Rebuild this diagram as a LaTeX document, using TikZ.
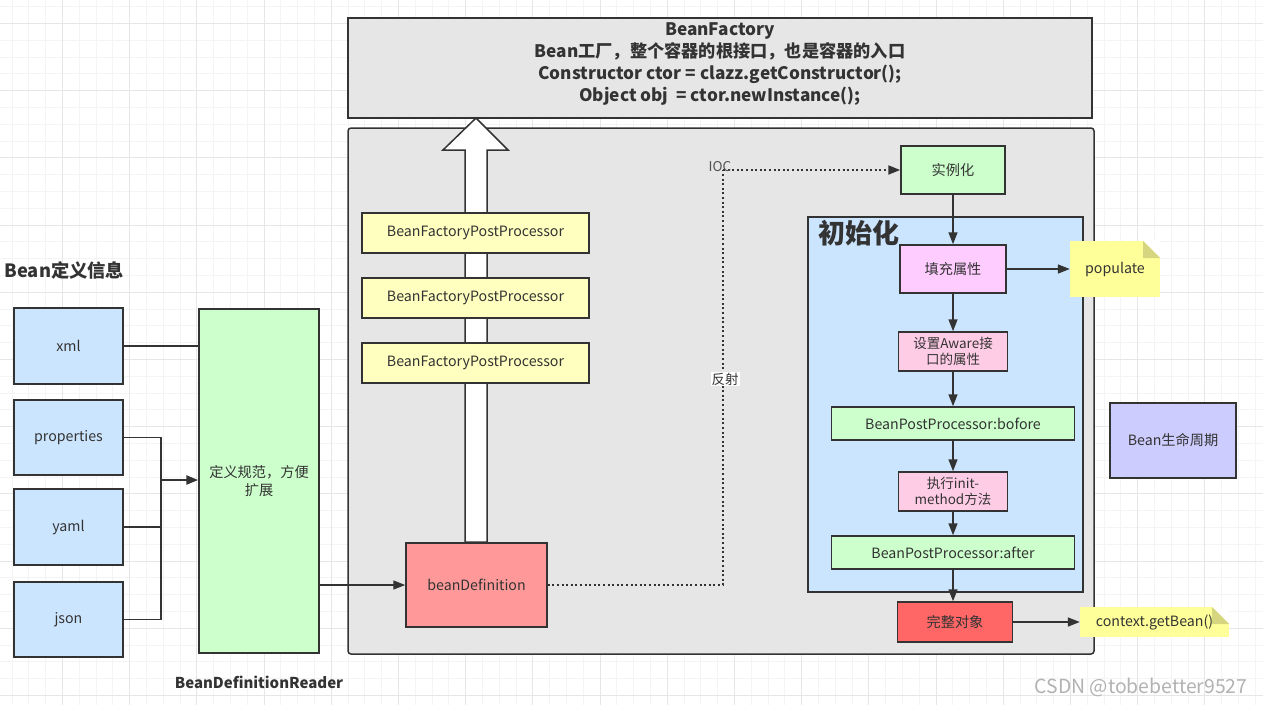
\documentclass[tikz,border=0pt]{standalone}
\usepackage{fontspec}
\setmainfont{Noto Sans CJK SC}
\usetikzlibrary{arrows.meta}
\definecolor{linecol}{HTML}{333333}
\definecolor{txtcol}{HTML}{333333}
\definecolor{gridminor}{HTML}{F4F4F4}
\definecolor{gridmajor}{HTML}{E6E6E6}
\definecolor{contgray}{HTML}{E6E6E6}
\definecolor{bfppyellow}{HTML}{FFFFC0}
\definecolor{srcblue}{HTML}{CCE5FF}
\definecolor{stepgreen}{HTML}{CCFFCC}
\definecolor{fillpink}{HTML}{FFCCFF}
\definecolor{softpink}{HTML}{FFCCE6}
\definecolor{defred}{HTML}{FF9999}
\definecolor{donered}{HTML}{FF6666}
\definecolor{lifeviolet}{HTML}{CCCCFF}
\definecolor{notebg}{HTML}{FFFF99}
\definecolor{notefold}{HTML}{D6D680}
\begin{document}
\begin{tikzpicture}[x=1pt,y=-1pt,
    box/.style={draw=linecol,line width=1.5pt,text=txtcol,align=center,inner sep=1pt,font=\fontsize{14.2}{17.5}\selectfont},
    line/.style={draw=linecol,line width=1.5pt},
    link/.style={draw=linecol,line width=1.5pt,-{Triangle[length=12pt,width=9pt]}},
    dotline/.style={draw=linecol,line width=2pt,dash pattern=on 2pt off 2.6pt},
    note/.style={fill=notebg,text=txtcol,inner sep=1pt,font=\fontsize{14.2}{17.5}\selectfont,
        path picture={
            \fill[white] ([xshift=-17pt]path picture bounding box.north east) -- (path picture bounding box.north east) -- ([yshift=-17pt]path picture bounding box.north east) -- cycle;
            \fill[notefold] ([xshift=-17pt]path picture bounding box.north east) -- ([xshift=-17pt,yshift=-17pt]path picture bounding box.north east) -- ([yshift=-17pt]path picture bounding box.north east) -- cycle;}}]
    \useasboundingbox (0,0) rectangle (1263,705);
    \fill[white] (0,0) rectangle (1263,705);
    \foreach \i in {0,...,75} \draw[gridminor,line width=0.8pt] (-4.9+16.8*\i,0) -- (-4.9+16.8*\i,705);
    \foreach \i in {0,...,41} \draw[gridminor,line width=0.8pt] (0,6.5+16.8*\i) -- (1263,6.5+16.8*\i);
    \foreach \i in {0,...,19} \draw[gridmajor,line width=0.8pt] (-4.9+67.2*\i,0) -- (-4.9+67.2*\i,705);
    \foreach \i in {0,...,10} \draw[gridmajor,line width=0.8pt] (0,23.3+67.2*\i) -- (1263,23.3+67.2*\i);

    \node [box,fill=contgray,minimum width=744,minimum height=100] (bf) at (720,68) {};
    \node [text=txtcol,align=center,font=\bfseries\fontsize{17.2}{21.7}\selectfont] (bftitle) at (720,64) {BeanFactory\\Bean工厂，整个容器的根接口，也是容器的入口\\Constructor ctor = clazz.getConstructor();\\Object obj\ \ = ctor.newInstance();};
    \node [box,fill=contgray,rounded corners=3pt,minimum width=746,minimum height=526] (cont) at (721,391) {};
    \draw [line,fill=white] (465,542) -- (465,150) -- (443,150) -- (476,118) -- (508,150) -- (487,150) -- (487,542) -- cycle;

    \node [box,fill=bfppyellow,minimum width=227,minimum height=40] (bfppa) at (475.5,233) {BeanFactoryPostProcessor};
    \node [box,fill=bfppyellow,minimum width=227,minimum height=40] (bfppb) at (475.5,298) {BeanFactoryPostProcessor};
    \node [box,fill=bfppyellow,minimum width=227,minimum height=40] (bfppc) at (475.5,363) {BeanFactoryPostProcessor};
    \node [box,fill=defred,minimum width=141,minimum height=84] (bd) at (476.5,585) {beanDefinition};

    \node [anchor=west,text=txtcol,font=\bfseries\fontsize{18.3}{22}\selectfont] (srctitle) at (1,270) {Bean定义信息};
    \node [box,fill=srcblue,minimum width=109,minimum height=76] (xml) at (68.5,346) {xml};
    \node [box,fill=srcblue,minimum width=109,minimum height=75] (props) at (68.5,437.5) {properties};
    \node [box,fill=srcblue,minimum width=109,minimum height=76] (yaml) at (68.5,527) {yaml};
    \node [box,fill=srcblue,minimum width=109,minimum height=75] (json) at (68.5,619.5) {json};
    \node [box,fill=stepgreen,minimum width=120,minimum height=344] (reader) at (259,481) {定义规范，方便\\扩展};
    \node [text=txtcol,font=\bfseries\fontsize{15}{18}\selectfont] (readerlbl) at (259,682) {BeanDefinitionReader};
    \coordinate (bus) at (161,480);
    \draw [line] (xml.east) -- (xml.east -| reader.west);
    \draw [line] (props.east) -| (bus);
    \draw [line] (yaml.east) -| (bus);
    \draw [line] (json.east) -| (bus);
    \draw [link,line width=2.5pt] (bus) -- (bus -| reader.west);
    \draw [link] (reader.east |- bd) -- (bd.west);

    \node [box,fill=stepgreen,minimum width=104,minimum height=48] (inst) at (953,170) {实例化};
    \node [box,fill=srcblue,minimum width=275,minimum height=375] (init) at (945.5,404.5) {};
    \node [anchor=west,text=txtcol,font=\bfseries\fontsize{27}{30}\selectfont] (inittitle) at (815,233) {初始化};
    \node [box,fill=fillpink,minimum width=106,minimum height=48] (fill) at (953,269) {填充属性};
    \node [box,fill=softpink,minimum width=109,minimum height=39,font=\fontsize{13.5}{16}\selectfont] (aware) at (953,351.5) {设置Aware接\\口的属性};
    \node [box,fill=stepgreen,minimum width=243,minimum height=33] (bppb) at (953,423.5) {BeanPostProcessor:bofore};
    \node [box,fill=softpink,minimum width=109,minimum height=39,font=\fontsize{13.5}{16}\selectfont] (initm) at (953,491.5) {执行init-\\method方法};
    \node [box,fill=stepgreen,minimum width=243,minimum height=33] (bppa) at (953,552.5) {BeanPostProcessor:after};
    \node [box,fill=donered,minimum width=115,minimum height=40] (done) at (955,622) {完整对象};
    \node [note,minimum width=90,minimum height=56] (pop) at (1115,269) {populate};
    \node [note,minimum width=149,minimum height=30] (getbean) at (1154.5,622) {context.getBean()};
    \node [box,fill=lifeviolet,minimum width=126,minimum height=75] (life) at (1173,440.5) {Bean生命周期};

    \draw [link] (inst) -- (fill);
    \draw [link] (fill) -- (aware);
    \draw [link] (aware) -- (bppb);
    \draw [link] (bppb) -- (initm);
    \draw [link] (initm) -- (bppa);
    \draw [link] (bppa.south) -- (bppa.south |- done.north);
    \draw [link] (fill) -- (pop);
    \draw [link] (done) -- (getbean);

    \coordinate (ioc) at (723,170);
    \draw [dotline] (bd.east) -| (ioc);
    \draw [dotline,-{Triangle[length=12pt,width=9pt]}] (ioc) -- (inst.west);
    \node [text=txtcol!85,font=\fontsize{13.5}{16}\selectfont] (ioclbl) at (720,167) {IOC};
    \node [fill=white,text=txtcol,inner sep=1pt,font=\fontsize{13.5}{16}\selectfont] (reflbl) at (725,379) {反射};

    \node [text=black!30,font=\fontsize{19.4}{22}\selectfont] (mark) at (1141,687) {CSDN @tobebetter9527};
\end{tikzpicture}
\end{document}
